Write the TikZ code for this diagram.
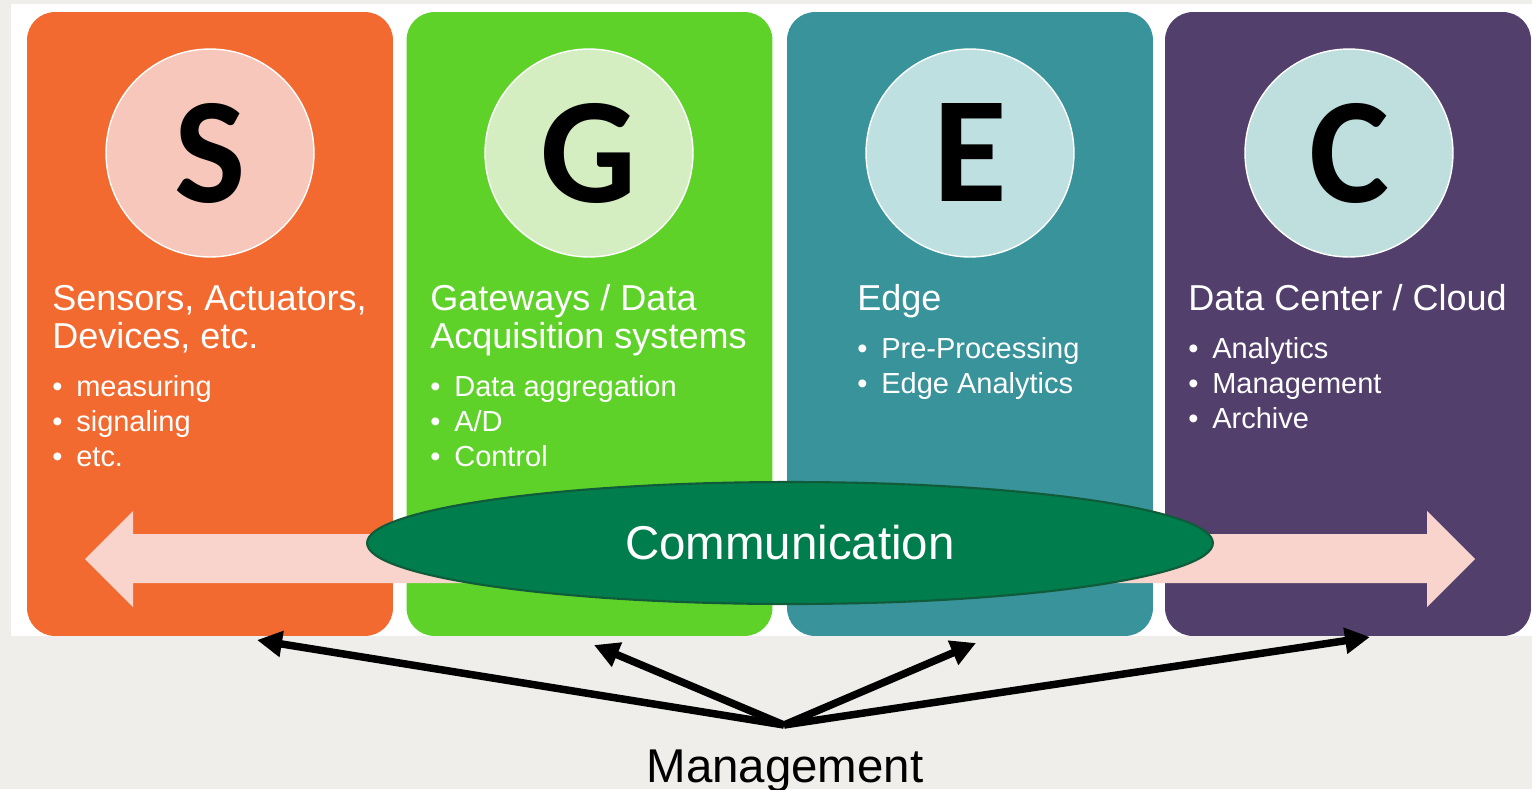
\documentclass[tikz,border=0pt]{standalone}
\usepackage{fontspec}
\setmainfont{Liberation Sans}
\newfontfamily\letterfont{Carlito}
\usepackage{tikz}
\usetikzlibrary{shapes.geometric,arrows.meta}

\definecolor{bggray}{HTML}{EFEEEA}
\definecolor{sensorange}{HTML}{F26A30}
\definecolor{gatewaygreen}{HTML}{5FD22A}
\definecolor{edgeteal}{HTML}{38939A}
\definecolor{cloudpurple}{HTML}{523F6C}
\definecolor{sensdisc}{HTML}{F7C7BB}
\definecolor{gatewaydisc}{HTML}{D4EEC2}
\definecolor{edgedisc}{HTML}{BFE0E0}
\definecolor{clouddisc}{HTML}{BFDEDE}
\definecolor{arrowpink}{HTML}{F9D4CC}
\definecolor{commgreen}{HTML}{007D4C}
\definecolor{commborder}{HTML}{0F5B3A}

\tikzstyle{panel} = [rectangle, rounded corners=0.56cm, minimum width=7.32cm, minimum height=12.48cm, inner sep=0pt]
\tikzstyle{disc} = [circle, draw=white, line width=0.8pt, minimum size=4.16cm, inner sep=0pt, font=\letterfont\bfseries\fontsize{86}{86}\selectfont]
% base anchor sits on the last line of a multi-line node
\tikzstyle{title} = [anchor=base west, align=left, inner sep=0pt, text=white, font=\fontsize{20.5}{21.6}\selectfont]
\tikzstyle{items} = [anchor=base west, align=left, inner sep=0pt, text=white, font=\fontsize{16.5}{19.9}\selectfont]
\tikzstyle{comm} = [ellipse, draw=commborder, line width=1.2pt, fill=commgreen, minimum width=16.92cm, minimum height=2.44cm, text=white, font=\fontsize{27}{30}\selectfont]
\tikzstyle{line} = [draw, line width=0.15cm, -{Triangle[length=0.5cm, width=0.5cm]}]
\newcommand{\itm}{\makebox[0.48cm][l]{\textbullet}}

\begin{document}
\begin{tikzpicture}[x=0.02cm, y=-0.02cm]
\useasboundingbox (0,0) rectangle (1532,789);
\fill[bggray] (0,0) rectangle (1532,789);
\fill[white] (11,4) rectangle (1532,636);
% Place nodes
\node [panel, fill=sensorange] (sens) at (210,324) {};
\node [panel, fill=gatewaygreen] (gate) at (589.5,324) {};
\node [panel, fill=edgeteal] (edge) at (970,324) {};
\node [panel, fill=cloudpurple] (cloud) at (1348,324) {};
\node [disc, fill=sensdisc] (sdisc) at (210,153) {S};
\node [disc, fill=gatewaydisc] (gdisc) at (589,153) {G};
\node [disc, fill=edgedisc] (edisc) at (970,153) {E};
\node [disc, fill=clouddisc] (cdisc) at (1349,153) {C};
\node [title] (senstitle) at (52,348) {Sensors, Actuators,\\Devices, etc.};
\node [items] (sensitems) at (52,466) {\itm measuring\\\itm signaling\\\itm etc.};
\node [title] (gatetitle) at (430,348) {Gateways / Data\\Acquisition systems};
\node [items] (gateitems) at (430,466) {\itm Data aggregation\\\itm A/D\\\itm Control};
\node [title] (edgetitle) at (857,310) {Edge};
\node [items] (edgeitems) at (857,393) {\itm Pre-Processing\\\itm Edge Analytics};
\node [title] (cloudtitle) at (1188,310) {Data Center / Cloud};
\node [items] (clouditems) at (1188,428) {\itm Analytics\\\itm Management\\\itm Archive};
% communication arrow and bubble
\fill [arrowpink] (85,559) -- (133,511) -- (133,534) -- (1427,534) -- (1427,511) -- (1475,559)
  -- (1427,607) -- (1427,583) -- (133,583) -- (133,607) -- cycle;
\node [comm] (comm) at (790,543) {Communication};
\node [anchor=base, font=\fontsize{27}{30}\selectfont] (mgmt) at (785,782) {Management};
\coordinate (hub) at (784,725);
\coordinate (senstip) at (257,640);
\coordinate (gatetip) at (594,645);
\coordinate (edgetip) at (976,643);
\coordinate (cloudtip) at (1370,637);
% Draw edges
\path [line] (hub) -- (senstip);
\path [line] (hub) -- (gatetip);
\path [line] (hub) -- (edgetip);
\path [line] (hub) -- (cloudtip);
\end{tikzpicture}
\end{document}
